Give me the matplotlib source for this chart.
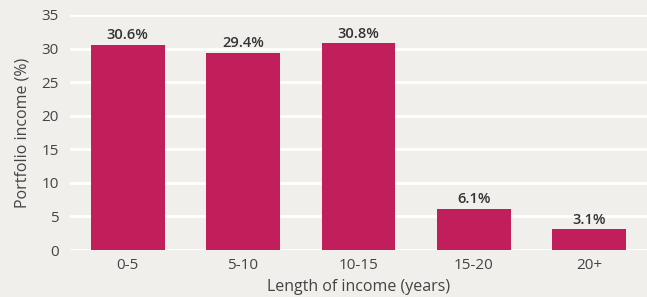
import matplotlib.pyplot as plt

categories = ["0-5", "5-10", "10-15", "15-20", "20+"]
values = [30.6, 29.4, 30.8, 6.1, 3.1]
yticks = [0, 5, 10, 15, 20, 25, 30, 35]

bg = "#f0efeb"
bar_color = "#c01f5b"
text_color = "#444444"

plt.rcParams["font.family"] = ["Open Sans", "DejaVu Sans"]

fig = plt.figure(figsize=(6.47, 2.97), dpi=100, facecolor=bg)
ax = fig.add_axes([0.108, 0.158, 0.892, 0.7915], facecolor=bg)

x = range(len(categories))
ax.bar(x, values, width=0.64, color=bar_color, zorder=3)

# value labels above bars
for xi, v in zip(x, values):
    ax.text(xi, v + 0.4, f"{v:.1f}%", ha="center", va="bottom",
            fontsize=10.5, fontweight="semibold", color="#333333")

ax.set_xlim(-0.5, 4.5)
ax.set_ylim(0, 35)
ax.set_xticks(list(x))
ax.set_xticklabels(categories)
ax.set_yticks(yticks)
ax.yaxis.grid(True, color="white", linewidth=2, zorder=0)
ax.tick_params(length=0, labelsize=11, colors=text_color, pad=8)
ax.tick_params(axis="x", pad=6)
for s in ax.spines.values():
    s.set_visible(False)

ax.set_xlabel("Length of income (years)", fontsize=11.5, color=text_color, labelpad=4)
ax.set_ylabel("Portfolio income (%)", fontsize=11.5, color=text_color, labelpad=8)

fig.savefig("out.png", dpi=100, facecolor=bg)
